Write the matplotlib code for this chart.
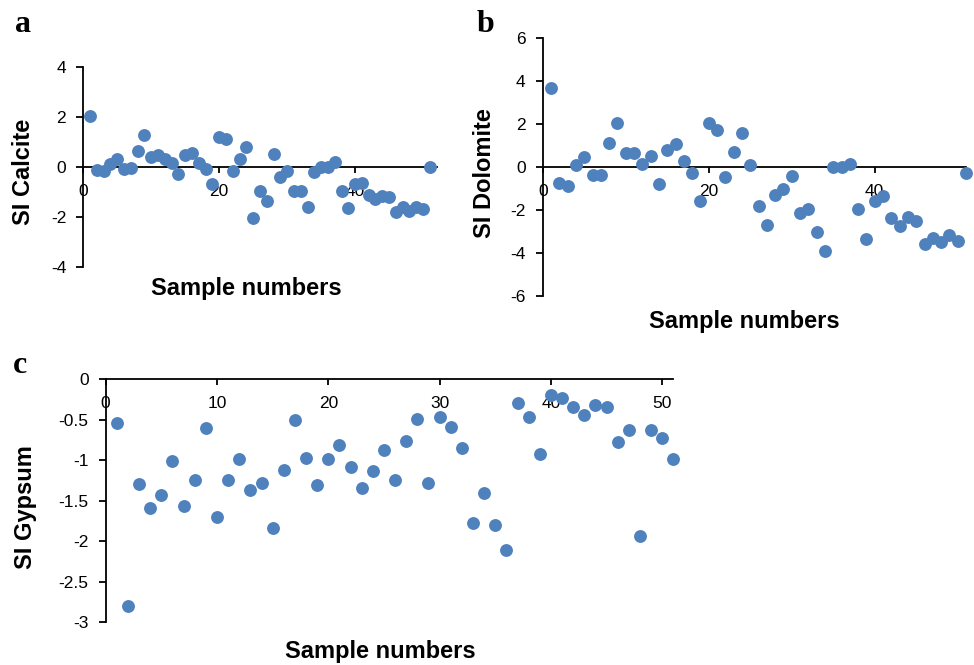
import numpy as np
import matplotlib
matplotlib.use("Agg")
from matplotlib import pyplot as plt

plt.rcParams['font.family'] = ['Liberation Sans', 'DejaVu Sans']
plt.rcParams['axes.unicode_minus'] = False

# saturation indices for the 51 samples
samples = np.arange(1, 52)

si_calcite = [2.03, -0.13, -0.19, 0.11, 0.29, -0.11, -0.05, 0.64, 1.28, 0.37,
              0.45, 0.29, 0.13, -0.29, 0.45, 0.53, 0.16, -0.11, -0.69, 1.17,
              1.12, -0.16, 0.29, 0.80, -2.07, -0.96, -1.37, 0.49, -0.40, -0.19,
              -0.99, -0.99, -1.60, -0.21, 0.00, 0.00, 0.19, -0.96, -1.65, -0.69,
              -0.64, -1.13, -1.31, -1.17, -1.23, -1.81, -1.63, -1.76, -1.60, -1.71,
              0.00]

si_dolomite = [3.64, -0.74, -0.90, 0.08, 0.47, -0.39, -0.39, 1.12, 2.02, 0.65,
               0.62, 0.12, 0.51, -0.81, 0.78, 1.05, 0.25, -0.29, -1.61, 2.02,
               1.71, -0.47, 0.68, 1.58, 0.09, -1.81, -2.71, -1.33, -1.04, -0.43,
               -2.14, -1.97, -3.01, -3.91, 0.00, 0.00, 0.12, -1.98, -3.36, -1.58,
               -1.36, -2.40, -2.74, -2.34, -2.50, -3.60, -3.32, -3.47, -3.19, -3.44,
               -0.31]

si_gypsum = [-0.54, -2.80, -1.29, -1.59, -1.43, -1.01, -1.57, -1.24, -0.61, -1.70,
             -1.25, -0.99, -1.37, -1.28, -1.84, -1.12, -0.51, -0.97, -1.31, -0.99,
             -0.82, -1.08, -1.34, -1.14, -0.87, -1.24, -0.77, -0.49, -1.28, -0.47,
             -0.59, -0.85, -1.78, -1.41, -1.80, -2.11, -0.29, -0.47, -0.93, -0.20,
             -0.23, -0.35, -0.45, -0.32, -0.35, -0.78, -0.63, -1.94, -0.63, -0.73,
             -0.99]

calcite_yticks = [-4, -2, 0, 2, 4]
dolomite_yticks = [-6, -4, -2, 0, 2, 4, 6]
gypsum_yticks = [-3, -2.5, -2, -1.5, -1, -0.5, 0]
gypsum_ylabels = ['-3', '-2.5', '-2', '-1.5', '-1', '-0.5', '0']

dot = '#4f81bd'
label_font = dict(fontsize=17, fontweight='bold')

fig = plt.figure(figsize=(9.74, 6.65), dpi=100)


def style_axes(ax):
    ax.spines['top'].set_visible(False)
    ax.spines['right'].set_visible(False)
    ax.spines['left'].set_position(('data', 0))
    ax.spines['bottom'].set_position(('data', 0))
    for s in ('left', 'bottom'):
        ax.spines[s].set_linewidth(1.3)
    ax.tick_params(axis='y', direction='out', length=5.3, width=1.3,
                   labelsize=12.5, pad=7)
    ax.tick_params(axis='x', direction='out', length=4, width=1.3,
                   labelsize=12.5, pad=8.5)
    ax.set_facecolor('none')


# a: calcite
ax1 = fig.add_axes([0.0855, 0.599, 0.3628, 0.3008])
ax1.scatter(samples, si_calcite, s=68, color=dot, zorder=3, clip_on=False)
ax1.set_xlim(0, 52)
ax1.set_ylim(-4, 4)
ax1.set_yticks(calcite_yticks)
ax1.set_xticks([0, 20, 40])
style_axes(ax1)
ax1.set_xlabel('Sample numbers', va='center', **label_font)
ax1.xaxis.set_label_coords(0.46, -0.107)
ax1.set_ylabel('SI Calcite', va='center', **label_font)
ax1.yaxis.set_label_coords(-0.168, 0.4735)

# b: dolomite
ax2 = fig.add_axes([0.5572, 0.5549, 0.4346, 0.3885])
ax2.scatter(samples, si_dolomite, s=68, color=dot, zorder=3, clip_on=False)
ax2.set_xlim(0, 51)
ax2.set_ylim(-6, 6)
ax2.set_yticks(dolomite_yticks)
ax2.set_xticks([0, 20, 40])
style_axes(ax2)
ax2.set_xlabel('Sample numbers', va='center', **label_font)
ax2.xaxis.set_label_coords(0.4755, -0.0995)
ax2.set_ylabel('SI Dolomite', va='center', **label_font)
ax2.yaxis.set_label_coords(-0.1387, 0.474)

# c: gypsum
ax3 = fig.add_axes([0.1085, 0.0642, 0.5828, 0.3659])
ax3.scatter(samples, si_gypsum, s=68, color=dot, zorder=3, clip_on=False)
ax3.set_xlim(0, 51)
ax3.set_ylim(-3, 0)
ax3.set_yticks(gypsum_yticks)
ax3.set_yticklabels(gypsum_ylabels)
ax3.set_xticks([0, 10, 20, 30, 40, 50])
style_axes(ax3)
ax3.set_xlabel('Sample numbers', va='center', **label_font)
ax3.xaxis.set_label_coords(0.4833, -0.121)
ax3.set_ylabel('SI Gypsum', va='center', **label_font)
ax3.yaxis.set_label_coords(-0.142, 0.472)

# panel letters
letter_font = dict(fontsize=23, fontweight='bold', family=['Liberation Serif', 'DejaVu Serif'])
fig.text(15 / 974, 1 - 32 / 665, 'a', va='baseline', **letter_font)
fig.text(477 / 974, 1 - 32 / 665, 'b', va='baseline', **letter_font)
fig.text(13 / 974, 1 - 373 / 665, 'c', va='baseline', **letter_font)

fig.savefig('out.png', dpi=100)
